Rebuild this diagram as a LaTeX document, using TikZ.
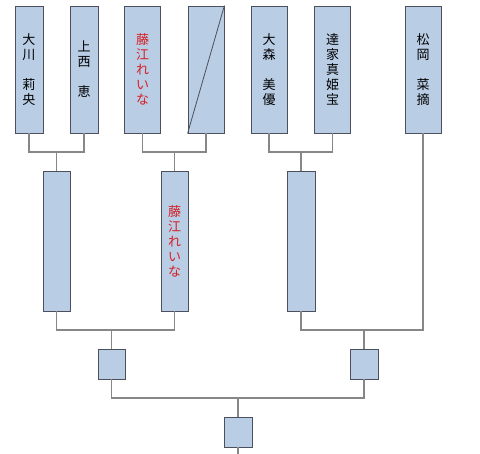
\documentclass[tikz,border=0pt]{standalone}
\usepackage{fontspec}
\newfontfamily\jp{Noto Sans CJK JP}
\definecolor{boxfill}{RGB}{185,205,229}
\definecolor{boxline}{RGB}{75,80,92}
\definecolor{conn}{RGB}{135,135,135}
\definecolor{redtxt}{RGB}{215,30,35}
\tikzset{
  player/.style={draw=boxline, fill=boxfill, line width=0.8pt, inner sep=0pt,
    minimum height=127pt, align=center, font=\jp\fontsize{13}{15}\selectfont},
  mid/.style={player, minimum height=140pt},
  small/.style={player, minimum height=30pt},
  link/.style={draw=conn, line width=1.3pt}
}
\begin{document}
\begin{tikzpicture}[x=1pt,y=-1pt]
\useasboundingbox (0,0) rectangle (480,454);
% top row
\node[player, minimum width=28pt] (b1) at (29,69.5) {大\\川\\~\\莉\\央};
\node[player, minimum width=28pt] (b2) at (84,69.5) {上\\西\\~\\恵};
\node[player, minimum width=36pt, text=redtxt] (b3) at (142.5,69.5) {藤\\江\\れ\\い\\な};
\node[player, minimum width=36pt] (b4) at (206,69.5) {};
\node[player, minimum width=36pt] (b5) at (269,69.5) {大\\森\\~\\美\\優};
\node[player, minimum width=36pt] (b6) at (332.5,69.5) {達\\家\\真\\姫\\宝};
\node[player, minimum width=36pt] (b7) at (423,69.5) {松\\岡\\~\\菜\\摘};
\draw[boxline, line width=0.8pt] (b4.south west) -- (b4.north east);
% second row
\node[mid, minimum width=27pt] (A) at (56.5,241) {};
\node[mid, minimum width=27pt, text=redtxt] (B) at (174.5,241) {藤\\江\\れ\\い\\な};
\node[mid, minimum width=28pt] (C) at (301,241) {};
% third row
\node[small, minimum width=27pt] (L) at (111.5,364) {};
\node[small, minimum width=28pt] (R) at (364,364) {};
% final
\node[small, minimum width=28pt] (F) at (238,432) {};
% junctions
\coordinate (j1) at (56.5,152);
\coordinate (j2) at (174.5,152);
\coordinate (j3) at (301,152);
\coordinate (j4) at (111.5,330);
\coordinate (j5) at (364,330);
\coordinate (j6) at (238,398);
\coordinate (bot) at (238,454);
% connectors
\draw[link] (b1.south) |- (j1) -| (b2.south);
\draw[link] (j1) -- (A.north);
\draw[link] (b3.south) |- (j2) -| (b4.south);
\draw[link] (j2) -- (B.north);
\draw[link] (b5.south) |- (j3) -| (b6.south);
\draw[link] (j3) -- (C.north);
\draw[link] (A.south) |- (j4) -| (B.south);
\draw[link] (j4) -- (L.north);
\draw[link] (C.south) |- (j5) -| (b7.south);
\draw[link] (j5) -- (R.north);
\draw[link] (L.south) |- (j6) -| (R.south);
\draw[link] (j6) -- (F.north);
\draw[link] (F.south) -- (bot);
\end{tikzpicture}
\end{document}
